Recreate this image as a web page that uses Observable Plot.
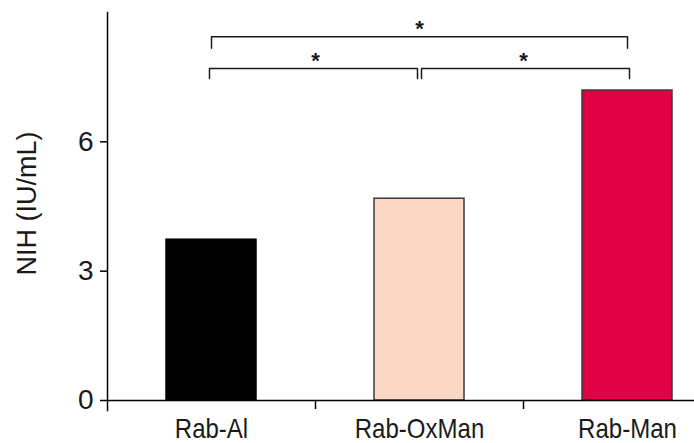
<!DOCTYPE html>
<html><head><meta charset="utf-8">
<script src="https://cdn.jsdelivr.net/npm/d3@7"></script>
<script src="https://cdn.jsdelivr.net/npm/@observablehq/plot@0.6"></script>
<style>html,body{margin:0;padding:0;background:#fff} #chart svg{display:block}</style>
</head><body><div id="chart"></div>
<script>
const categories = ["Rab-Al", "Rab-OxMan", "Rab-Man"];
const values = [3.73, 4.68, 7.19];
const fills = ["#000000", "#FCD8C4", "#DF0046"];
const strokes = ["#000000", "#3a3a3a", "#3a3a3a"];
const yTicks = [0, 3, 6];
const yLabel = "NIH (IU/mL)";
// significance brackets: from / to category, bar level, leg end, label
const bracketFrom = ["Rab-Al", "Rab-Al", "Rab-OxMan"];
const bracketTo = ["Rab-Man", "Rab-OxMan", "Rab-Man"];
const bracketLevel = [8.44, 7.70, 7.70];
const bracketLeg = [8.17, 7.47, 7.47];
const bracketLabel = ["*", "*", "*"];

const W = 694, H = 443;
const xRange = [107, 731];
const step = (xRange[1] - xRange[0]) / categories.length;
const font = "'Liberation Sans', Arial, Helvetica, sans-serif";
const ink = "#1a1a1a";

const data = categories.map((c, i) => ({cat: c, value: values[i], fill: fills[i], stroke: strokes[i]}));

const bracketMarks = [];
bracketFrom.forEach((f, k) => {
  const t = bracketTo[k];
  const i0 = categories.indexOf(f), i1 = categories.indexOf(t);
  const pts = [
    {x: f, y: bracketLeg[k]}, {x: f, y: bracketLevel[k]},
    {x: t, y: bracketLevel[k]}, {x: t, y: bracketLeg[k]}
  ];
  let gapDx = 0;
  if (i1 - i0 === 1) gapDx = (i0 === 0) ? -2 : 2;
  bracketMarks.push(Plot.line(pts, {x: "x", y: "y", stroke: ink, strokeWidth: 1.5, dx: gapDx, curve: "linear"}));
  const mid = (i0 + i1) / 2;
  const base = categories[Math.floor(mid)];
  const sdx = (mid - Math.floor(mid)) * step;
  bracketMarks.push(Plot.text([{x: base, y: bracketLevel[k], t: bracketLabel[k]}], {
    x: "x", y: "y", text: "t", dx: sdx, dy: -8, fontSize: 22, fill: ink, fontWeight: "bold", lineAnchor: "middle"
  }));
});

const chart = Plot.plot({
  width: W, height: H,
  marginLeft: 107, marginRight: 0, marginTop: 12, marginBottom: 33,
  style: {fontFamily: font, background: "#fff", color: ink},
  x: {domain: categories, range: xRange, paddingInner: 0.567, paddingOuter: 0.2835, align: 0.5, label: null},
  y: {domain: [0, 9], range: [400, 12], label: null},
  marks: [
    Plot.barY(data, {x: "cat", y: "value", fill: "fill", stroke: "stroke", strokeWidth: 1.5}),
    Plot.ruleY([0], {stroke: "#000", strokeWidth: 1.5}),
    Plot.frame({anchor: "left", stroke: "#000", strokeWidth: 1.5}),
    Plot.axisY({ticks: yTicks, tickSize: 7, tickPadding: 7, fontSize: 28, label: null, stroke: "#000", strokeWidth: 1.5, fill: ink}),
    Plot.axisX({tickSize: 0, tickPadding: 8, fontSize: 27, label: null, fill: ink}),
    Plot.ruleX(categories.slice(0, -1), {x: d => d, y1: 0, y2: -0.21, dx: step / 2, stroke: "#000", strokeWidth: 1.5}),
    Plot.text([yLabel], {frameAnchor: "left", rotate: -90, dx: -80, dy: -8, fontSize: 27, fill: ink, lineAnchor: "middle", textAnchor: "middle"}),
    ...bracketMarks
  ]
});
document.getElementById("chart").appendChild(chart);
// slightly condensed category labels, as in the reference
d3.select(chart).selectAll('g[aria-label="x-axis tick label"] text').each(function () {
  const t = this.getAttribute("transform");
  if (t) this.setAttribute("transform", t + " scale(0.89,1)");
});
</script>
</body></html>
